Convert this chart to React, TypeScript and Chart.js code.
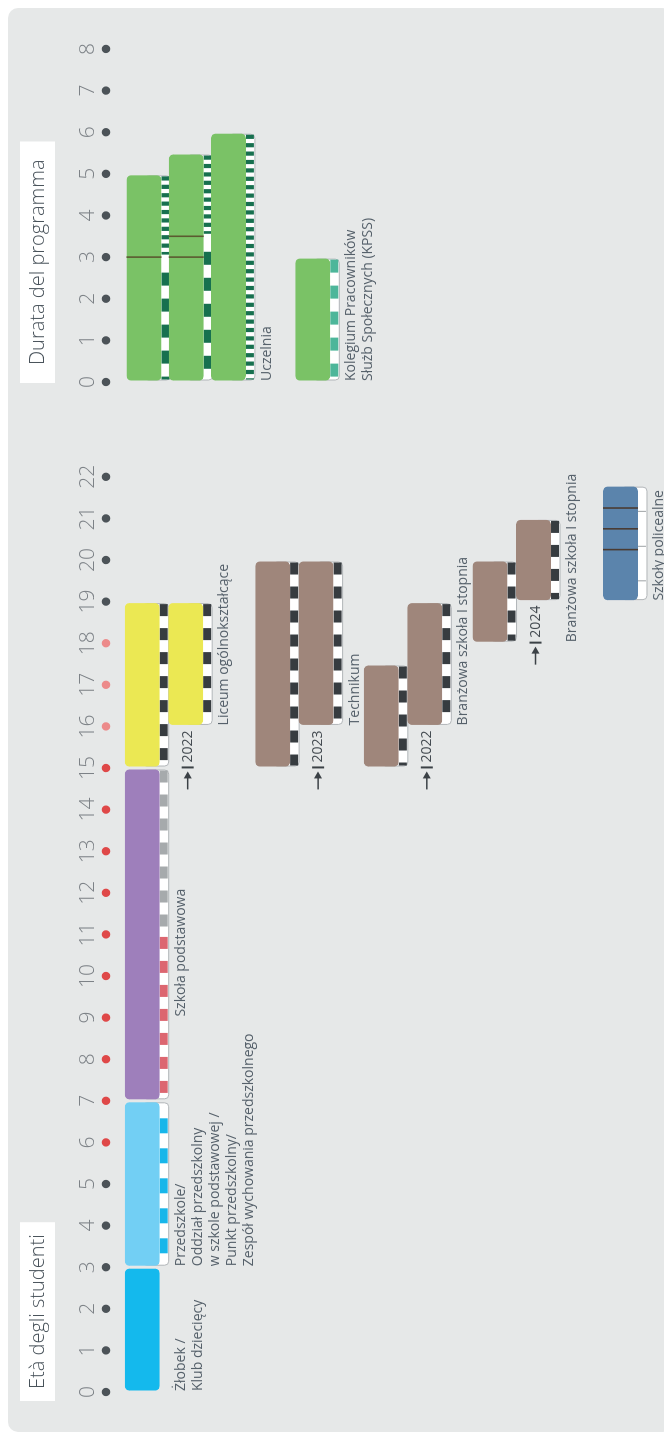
import React, { useEffect, useRef } from 'react';
import { Chart, registerables } from 'chart.js';

Chart.register(...registerables);

/* ------------------------------------------------------------------ */
/*  DATA – age diagram                                                 */
/* ------------------------------------------------------------------ */
const ageTickLabels = ['0', '1', '2', '3', '4', '5', '6', '7', '8', '9', '10', '11', '12', '13', '14', '15', '16', '17', '18', '19', '20', '21', '22'];
const fullTimeCompulsoryAges = [6, 7, 8, 9, 10, 11, 12, 13, 14, 15];
const partTimeCompulsoryAges = [16, 17, 18];

const ageRows = [
  'Ścieżka podstawowa', '', 'Liceum (od 2022)', '', '', '',
  'Technikum', '', 'Technikum (od 2023)', '', '',
  'Branżowa I', '', 'Branżowa I (od 2022)', '', '',
  'Branżowa II', '', 'Branżowa II (od 2024)', '', '', '',
  'Szkoły policealne',
];

const programNames = [
  'Żłobek / Klub dziecięcy', 'Przedszkole', 'Szkoła podstawowa', 'Liceum ogólnokształcące',
  'Liceum ogólnokształcące (od 2022)', 'Technikum', 'Technikum (od 2023)', 'Branżowa szkoła I stopnia',
  'Branżowa szkoła I stopnia (od 2022)', 'Branżowa szkoła II stopnia', 'Branżowa szkoła II stopnia (od 2024)', 'Szkoły policealne',
];
const programRows = [
  'Ścieżka podstawowa', 'Ścieżka podstawowa', 'Ścieżka podstawowa', 'Ścieżka podstawowa',
  'Liceum (od 2022)', 'Technikum', 'Technikum (od 2023)', 'Branżowa I',
  'Branżowa I (od 2022)', 'Branżowa II', 'Branżowa II (od 2024)', 'Szkoły policealne',
];
const programStart = [0, 3, 7, 15, 16, 15, 16, 15, 16, 18, 19, 19];
const programEnd = [3, 7, 15, 19, 19, 20, 20, 17.5, 19, 20, 21, 21.8];
const programReformYear = [null, null, null, null, '2022', null, '2023', null, '2022', null, '2024', null];

const ageStripeRows = [
  'Ścieżka podstawowa', 'Ścieżka podstawowa', 'Ścieżka podstawowa', 'Ścieżka podstawowa',
  'Liceum (od 2022)', 'Technikum', 'Technikum (od 2023)', 'Branżowa I', 'Branżowa I (od 2022)',
  'Branżowa II', 'Branżowa II (od 2024)',
];
const ageStripeFrom = [3, 7, 11, 15, 16, 15, 16, 15, 16, 18, 19];
const ageStripeTo = [7, 11, 15, 19, 19, 20, 20, 17.5, 19, 20, 21];
const ageStripeKind = ['isced02', 'isced1', 'isced24', 'isced34', 'isced34', 'isced34', 'isced34', 'isced34', 'isced34', 'isced34', 'isced34'];

const postSecondaryBarLines = [20.25, 20.75, 21.25];
const postSecondaryBoxMarks = [19.5, 20.33, 21.17];

const ageCaptionLines = [
  ['Żłobek /', 'Klub dziecięcy'],
  ['Przedszkole/', 'Oddział przedszkolny', 'w szkole podstawowej /', 'Punkt przedszkolny/', 'Zespół wychowania przedszkolnego'],
  ['Szkoła podstawowa'],
  ['Liceum ogólnokształcące'],
  ['Technikum'],
  ['Branżowa szkoła I stopnia'],
  ['Branżowa szkoła I stopnia'],
  ['Szkoły policealne'],
];
const ageCaptionRows = [
  'Ścieżka podstawowa', 'Ścieżka podstawowa', 'Ścieżka podstawowa', 'Liceum (od 2022)',
  'Technikum (od 2023)', 'Branżowa I (od 2022)', 'Branżowa II (od 2024)', 'Szkoły policealne',
];
const ageCaptionFrom = [0, 3, 9, 16, 16, 16, 18, 19];

/* ------------------------------------------------------------------ */
/*  DATA – programme duration diagram                                  */
/* ------------------------------------------------------------------ */
const durationTickLabels = ['0', '1', '2', '3', '4', '5', '6', '7', '8'];
const durationRows = ['Uczelnia 5 lat', '', 'Uczelnia 5,5 roku', '', 'Uczelnia 6 lat', '', '', '', 'KPSS'];

const tertiaryNames = ['Uczelnia (5 lat)', 'Uczelnia (5,5 roku)', 'Uczelnia (6 lat)', 'Kolegium Pracowników Służb Społecznych (KPSS)'];
const tertiaryRows = ['Uczelnia 5 lat', 'Uczelnia 5,5 roku', 'Uczelnia 6 lat', 'KPSS'];
const tertiaryStart = [0, 0, 0, 0];
const tertiaryEnd = [5, 5.5, 6, 3];
const tertiaryCuts = [[3], [3, 3.5], [], []];

const tertiaryStripeRows = ['Uczelnia 5 lat', 'Uczelnia 5 lat', 'Uczelnia 5,5 roku', 'Uczelnia 5,5 roku', 'Uczelnia 6 lat', 'KPSS'];
const tertiaryStripeFrom = [0, 3, 0, 3.5, 0, 0];
const tertiaryStripeTo = [3, 5, 3.5, 5.5, 6, 3];
const tertiaryStripeKind = ['isced6', 'isced7', 'isced6', 'isced7', 'isced7', 'isced5'];

const tertiaryCaptionLines = [['Uczelnia'], ['Kolegium Pracowników', 'Służb Społecznych (KPSS)']];
const tertiaryCaptionRows = ['Uczelnia 6 lat', 'KPSS'];
const tertiaryCaptionFrom = [0, 0];

/* ------------------------------------------------------------------ */
/*  STYLE                                                              */
/* ------------------------------------------------------------------ */
const PANEL_BG = '#e6e8e8';
const CANVAS_H = 664;
const BAR = 35;
const STRIPE = 8;
const TICK_Y = 80;
const DOT_Y = 98;
const TEXT_FAMILY = "'Open Sans', 'DejaVu Sans', sans-serif";
const TICK_FONT = { family: TEXT_FAMILY, size: 21, weight: '300', lineHeight: 1 };

const programColors = ['#14b9ed', '#72cff4', '#9e7fbb', '#ebe853', '#ebe853', '#9f867b', '#9f867b', '#9f867b', '#9f867b', '#9f867b', '#9f867b', '#5b84ac'];
const tertiaryColors = ['#7ac266', '#7ac266', '#7ac266', '#7ac266'];

const STRIPE_STYLE: Record<string, { color: string; seg: number; first: boolean }> = {
  isced02: { color: '#17b6ea', seg: 15, first: false },
  isced1: { color: '#dc6670', seg: 12, first: true },
  isced24: { color: '#a6aaac', seg: 12, first: true },
  isced34: { color: '#373c40', seg: 12, first: true },
  isced5: { color: '#4db69a', seg: 13, first: true },
  isced6: { color: '#17704f', seg: 13, first: false },
  isced7: { color: '#17704f', seg: 4.2, first: true },
};

type Bar = { name: string; row: string; from: number; to: number; color: string; cuts: number[]; marks: number[]; reform: string | null; box: boolean };
type Stripe = { row: string; from: number; to: number; kind: string };
type Caption = { row: string; from: number; lines: string[] };

type DiagramParams = {
  rows: string[]; rowH: number; firstCenter: number; width: number; left: number; right: number;
  max: number; tickLabels: string[]; bars: Bar[]; stripes: Stripe[]; captions: Caption[];
  title: string; titleShift: number; titlePad: number; dotColor: (v: number) => string; cutColor: string;
};

function diagramPlugin(p: DiagramParams) {
  return {
    id: 'diagram',
    beforeDatasetsDraw(chart: any) {
      const { ctx } = chart;
      const xs = chart.scales.x;
      const ys = chart.scales.y;
      ctx.save();
      // title box
      ctx.font = `300 20px ${TEXT_FAMILY}`;
      const tw = ctx.measureText(p.title).width;
      const bx = xs.getPixelForValue(0) + p.titleShift;
      ctx.fillStyle = '#ffffff';
      ctx.fillRect(bx, 12, tw + 2 * p.titlePad, 35);
      ctx.fillStyle = '#48525a';
      ctx.textAlign = 'left';
      ctx.textBaseline = 'middle';
      ctx.fillText(p.title, bx + p.titlePad, 30);
      // dots on the axis
      for (const t of xs.ticks) {
        ctx.beginPath();
        ctx.arc(xs.getPixelForValue(t.value), DOT_Y, 4.2, 0, Math.PI * 2);
        ctx.fillStyle = p.dotColor(t.value);
        ctx.fill();
      }
      // white boxes behind bars
      for (const b of p.bars) {
        if (!b.box) continue;
        const x0 = xs.getPixelForValue(b.from) + 1.5;
        const x1 = xs.getPixelForValue(b.to) - 1.5;
        const yc = ys.getPixelForValue(b.row);
        ctx.beginPath();
        ctx.roundRect(x0 + 0.5, yc + 0.5, x1 - x0 - 1, BAR / 2 + STRIPE + 0.5, 4);
        ctx.fillStyle = '#ffffff';
        ctx.fill();
        ctx.lineWidth = 1;
        ctx.strokeStyle = '#b1b5b8';
        ctx.stroke();
      }
      // stripes
      for (const s of p.stripes) {
        const st = STRIPE_STYLE[s.kind];
        const x0 = xs.getPixelForValue(s.from) + 2.5;
        const x1 = xs.getPixelForValue(s.to) - 2.5;
        const yc = ys.getPixelForValue(s.row);
        const y0 = yc + BAR / 2;
        const h = STRIPE;
        ctx.fillStyle = st.color;
        let x = x1;
        let on = st.first;
        while (x > x0) {
          const w = Math.min(st.seg, x - x0);
          if (on) ctx.fillRect(x - w, y0, w, h);
          x -= st.seg;
          on = !on;
        }
      }
      ctx.restore();
    },
    afterDatasetsDraw(chart: any) {
      const { ctx } = chart;
      const xs = chart.scales.x;
      const ys = chart.scales.y;
      ctx.save();
      for (const b of p.bars) {
        const yc = ys.getPixelForValue(b.row);
        // lines across the bar
        ctx.strokeStyle = p.cutColor;
        ctx.lineWidth = 1.6;
        for (const c of b.cuts) {
          const x = xs.getPixelForValue(c);
          ctx.beginPath();
          ctx.moveTo(x, yc - BAR / 2);
          ctx.lineTo(x, yc + BAR / 2);
          ctx.stroke();
        }
        // marks inside the white box
        ctx.strokeStyle = '#9ea2a5';
        ctx.lineWidth = 1;
        for (const m of b.marks) {
          const x = xs.getPixelForValue(m);
          ctx.beginPath();
          ctx.moveTo(x, yc + BAR / 2);
          ctx.lineTo(x, yc + BAR / 2 + STRIPE);
          ctx.stroke();
        }
        // reform arrow
        if (b.reform) {
          const xr = xs.getPixelForValue(b.from) - 4;
          const y = yc + 2;
          ctx.font = `14px ${TEXT_FAMILY}`;
          ctx.fillStyle = '#454c52';
          ctx.textAlign = 'right';
          ctx.textBaseline = 'middle';
          ctx.fillText(b.reform, xr, y);
          const tw = ctx.measureText(b.reform).width;
          const barX = xr - tw - 5;
          ctx.fillStyle = '#3b4146';
          ctx.fillRect(barX - 1, y - 6, 2, 12);
          const tip = barX - 4;
          ctx.strokeStyle = '#3b4146';
          ctx.lineWidth = 1.5;
          ctx.beginPath();
          ctx.moveTo(tip - 18, y);
          ctx.lineTo(tip - 5, y);
          ctx.stroke();
          ctx.beginPath();
          ctx.moveTo(tip, y);
          ctx.lineTo(tip - 7, y - 4);
          ctx.lineTo(tip - 7, y + 4);
          ctx.closePath();
          ctx.fill();
        }
      }
      // captions
      ctx.font = `14px ${TEXT_FAMILY}`;
      ctx.fillStyle = '#56616b';
      ctx.textAlign = 'left';
      ctx.textBaseline = 'middle';
      for (const c of p.captions) {
        const yc = ys.getPixelForValue(c.row);
        const x = xs.getPixelForValue(c.from) + 1;
        c.lines.forEach((line, i) => {
          ctx.fillText(line, x, yc + BAR / 2 + STRIPE + 13 + i * 17);
        });
      }
      ctx.restore();
    },
  };
}

function buildConfig(p: DiagramParams): any {
  const axisH = p.firstCenter - p.rowH / 2;
  const bottomPad = CANVAS_H - axisH - p.rows.length * p.rowH;
  return {
    type: 'bar',
    data: {
      labels: p.rows,
      datasets: p.bars.map((b) => ({
        label: b.name,
        data: p.rows.map((r) => (r === b.row ? [b.from, b.to] : null)),
        backgroundColor: b.color,
        borderColor: 'rgba(0,0,0,0)',
        borderWidth: { left: 1.5, right: 1.5, top: 0, bottom: 0 },
        borderSkipped: false,
        borderRadius: 6,
        inflateAmount: 0,
        barThickness: BAR,
        stack: 'diagram',
        clip: false,
      })),
    },
    options: {
      indexAxis: 'y',
      responsive: false,
      maintainAspectRatio: false,
      animation: false,
      events: [],
      layout: { padding: { left: p.left, right: p.width - p.right, top: 0, bottom: bottomPad } },
      plugins: { legend: { display: false }, tooltip: { enabled: false } },
      scales: {
        x: {
          type: 'linear',
          position: 'top',
          stacked: false,
          min: 0,
          max: p.max,
          ticks: {
            stepSize: 1,
            autoSkip: false,
            maxRotation: 0,
            minRotation: 0,
            padding: axisH - TICK_Y - TICK_FONT.size / 2,
            color: '#7d8287',
            font: TICK_FONT,
            callback: (v: any) => p.tickLabels[v] ?? '',
          },
          grid: { display: false, drawTicks: false },
          border: { display: false },
          afterFit: (s: any) => { s.height = axisH; },
        },
        y: { type: 'category', display: false, offset: true, stacked: true, grid: { display: false } },
      },
    },
    plugins: [diagramPlugin(p)],
  };
}

function ageParams(): DiagramParams {
  const bars: Bar[] = programNames.map((name, i) => ({
    name,
    row: programRows[i],
    from: programStart[i],
    to: programEnd[i],
    color: programColors[i],
    cuts: name === 'Szkoły policealne' ? postSecondaryBarLines : [],
    marks: name === 'Szkoły policealne' ? postSecondaryBoxMarks : [],
    reform: programReformYear[i],
    box: name === 'Szkoły policealne' || ageStripeRows.some((r, k) => r === programRows[i] && ageStripeFrom[k] >= programStart[i] && ageStripeTo[k] <= programEnd[i]),
  }));
  const stripes: Stripe[] = ageStripeRows.map((row, i) => ({ row, from: ageStripeFrom[i], to: ageStripeTo[i], kind: ageStripeKind[i] }));
  const captions: Caption[] = ageCaptionLines.map((lines, i) => ({ lines, row: ageCaptionRows[i], from: ageCaptionFrom[i] }));
  return {
    rows: ageRows, rowH: 21.74, firstCenter: 134.2, width: 1000, left: 40, right: 959.6,
    max: 22, tickLabels: ageTickLabels, bars, stripes, captions,
    title: 'Età degli studenti', titleShift: -9, titlePad: 12,
    dotColor: (v) => (fullTimeCompulsoryAges.includes(v) ? '#df4848' : partTimeCompulsoryAges.includes(v) ? '#ec8a8a' : '#4c5358'),
    cutColor: '#4a3b32',
  };
}

function durationParams(): DiagramParams {
  const bars: Bar[] = tertiaryNames.map((name, i) => ({
    name,
    row: tertiaryRows[i],
    from: tertiaryStart[i],
    to: tertiaryEnd[i],
    color: tertiaryColors[i],
    cuts: tertiaryCuts[i],
    marks: [],
    reform: null,
    box: true,
  }));
  const stripes: Stripe[] = tertiaryStripeRows.map((row, i) => ({ row, from: tertiaryStripeFrom[i], to: tertiaryStripeTo[i], kind: tertiaryStripeKind[i] }));
  const captions: Caption[] = tertiaryCaptionLines.map((lines, i) => ({ lines, row: tertiaryCaptionRows[i], from: tertiaryCaptionFrom[i] }));
  return {
    rows: durationRows, rowH: 21.1, firstCenter: 136, width: 424, left: 50, right: 390,
    max: 8, tickLabels: durationTickLabels, bars, stripes, captions,
    title: 'Durata del programma', titleShift: -1, titlePad: 18,
    dotColor: () => '#4c5358',
    cutColor: '#5b5a30',
  };
}

export default function App() {
  const ageRef = useRef<HTMLCanvasElement>(null);
  const durRef = useRef<HTMLCanvasElement>(null);

  useEffect(() => {
    const prevOverflow = document.body.style.overflow;
    document.body.style.overflow = 'hidden';
    const c1 = new Chart(ageRef.current as HTMLCanvasElement, buildConfig(ageParams()));
    const c2 = new Chart(durRef.current as HTMLCanvasElement, buildConfig(durationParams()));
    return () => {
      c1.destroy();
      c2.destroy();
      document.body.style.overflow = prevOverflow;
    };
  }, []);

  return (
    <div style={{ position: 'relative', width: 664, height: 1424, background: PANEL_BG, borderRadius: 10, overflow: 'hidden' }}>
      <div
        style={{
          position: 'absolute', left: 0, top: 0, width: 1424, height: CANVAS_H,
          transformOrigin: '0 0', transform: 'translate(0px, 1424px) rotate(-90deg)',
        }}
      >
        <canvas ref={ageRef} width={1000} height={CANVAS_H} style={{ position: 'absolute', left: 0, top: 0 }} />
        <canvas ref={durRef} width={424} height={CANVAS_H} style={{ position: 'absolute', left: 1000, top: 0 }} />
      </div>
    </div>
  );
}
